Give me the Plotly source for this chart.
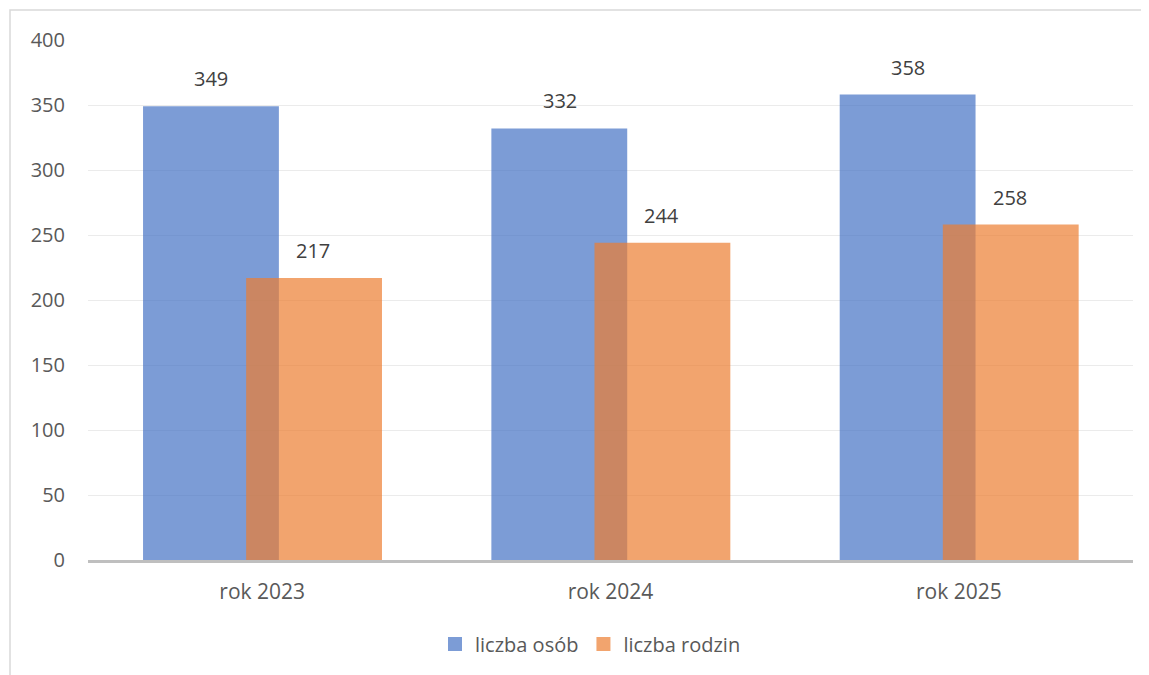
import plotly.graph_objects as go

categories = ["rok 2023", "rok 2024", "rok 2025"]
osob = [349, 332, 358]
rodzin = [217, 244, 258]
series_names = ["liczba osób", "liczba rodzin"]
y_ticks = [0, 50, 100, 150, 200, 250, 300, 350, 400]

W, H = 1149, 675
OFF = 8  # page body margin
L, T = 88 - OFF, 40 - OFF
R = W - (1133 - OFF)
B = H - (560 - OFF)
pw, ph = W - L - R, H - T - B

font = "Open Sans"
tc = "#595959"
blue = "rgba(68,114,196,0.7)"
orange = "rgba(237,125,49,0.7)"

fig = go.Figure()
fig.add_trace(go.Bar(
    x=categories, y=osob, name=series_names[0], showlegend=False, legendgroup="a",
    marker=dict(color=blue, line=dict(width=0)),
    width=0.39, offset=-0.342, hoverinfo="x+y",
))
fig.add_trace(go.Bar(
    x=categories, y=rodzin, name=series_names[1], showlegend=False, legendgroup="b",
    marker=dict(color=orange, line=dict(width=0)),
    width=0.39, offset=-0.046, hoverinfo="x+y",
))
for nm, col, grp in [(series_names[0], blue, "a"), (series_names[1], orange, "b")]:
    fig.add_trace(go.Scatter(x=[None], y=[None], mode="markers", name=nm, legendgroup=grp,
                             marker=dict(symbol="square", size=14, color=col, line=dict(width=0))))

annotations = []
for c, v in zip(categories, osob):
    annotations.append(dict(x=c, y=v, xref="x", yref="y", text=str(v), showarrow=False,
                            xshift=-51, yanchor="bottom", yshift=12,
                            font=dict(family=font, size=20, color="#404040")))
for c, v in zip(categories, rodzin):
    annotations.append(dict(x=c, y=v, xref="x", yref="y", text=str(v), showarrow=False,
                            xshift=51, yanchor="bottom", yshift=12,
                            font=dict(family=font, size=20, color="#404040")))

fx0, fy0 = 10 - OFF, 10 - OFF
frame = dict(type="rect", xref="paper", yref="paper",
             x0=(fx0 - L) / pw, x1=(W + 20 - L) / pw,
             y0=-(H + 20 - T - ph) / ph, y1=1 + (T - fy0) / ph,
             line=dict(color="#D9D9D9", width=1.5), fillcolor="rgba(0,0,0,0)", layer="below")

leg_cx = 590.5 - OFF
leg_cy = 644 - OFF

fig.update_layout(
    width=W, height=H,
    margin=dict(l=L, r=R, t=T, b=B),
    paper_bgcolor="white", plot_bgcolor="white",
    barmode="overlay",
    font=dict(family=font, size=20, color=tc),
    showlegend=True,
    legend=dict(orientation="h", x=(leg_cx - L) / pw, xanchor="center", y=-(leg_cy - T - ph) / ph,
                yanchor="middle", font=dict(family=font, size=20, color=tc),
                itemwidth=30, tracegroupgap=0),
    annotations=annotations,
    shapes=[frame],
    xaxis=dict(type="category", showgrid=False, showline=True, linecolor="#BFBFBF", linewidth=2.5,
               tickfont=dict(family=font, size=21, color=tc), ticks="", ticklabelstandoff=11,
               range=[-0.5, 2.5], zeroline=False),
    yaxis=dict(range=[0, 400], tickvals=y_ticks, showgrid=True, gridcolor="#EBEBEB", gridwidth=1,
               zeroline=False, showline=False, ticks="", ticklabelstandoff=22,
               tickfont=dict(family=font, size=20, color=tc)),
)

fig.write_html("out.html")
